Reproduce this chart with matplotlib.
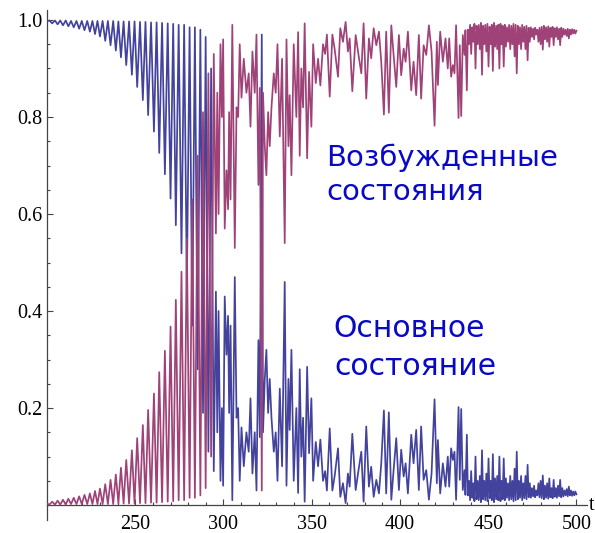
import numpy as np
import matplotlib
import matplotlib.pyplot as plt
from matplotlib.ticker import MultipleLocator

matplotlib.use('Agg')

# ground state population, turning points (t, value)
t_turn = [
    200.0, 201.4, 202.95, 204.5, 206.0, 207.5, 209.05, 210.6, 212.1, 213.6,
    215.15, 216.7, 218.2, 219.7, 221.25, 222.8, 224.3, 225.75, 227.2, 228.6,
    230.0, 231.5, 233.0, 234.5, 236.0, 237.5, 239.0, 240.45, 241.9, 243.4,
    244.9, 246.5, 248.1, 249.6, 251.1, 252.7, 254.3, 255.8, 257.3, 258.95,
    260.6, 262.1, 263.6, 265.2, 266.8, 268.4, 270.0, 271.5, 273.0, 274.6,
    276.2, 277.7, 279.25, 280.8, 282.3, 283.8, 285.35, 286.9, 288.4, 289.9,
    291.45, 293.0, 294.5, 295.7, 296.5, 297.2, 298.3, 299.1, 299.8, 300.7,
    301.7, 302.6, 303.2, 304.0, 305.0, 306.4, 307.4, 308.3, 309.2, 310.2,
    311.5, 313.0, 314.3, 315.3, 316.4, 317.7, 318.7, 319.8, 320.6, 321.7,
    322.4, 323.4, 324.3, 325.3, 326.2, 327.2, 328.5, 329.6, 330.6, 331.9,
    333.2, 334.7, 335.7, 336.8, 337.5, 338.5, 339.8, 341.3, 342.3, 343.2,
    344.1, 345.1, 346.0, 347.4, 348.5, 349.8, 350.8, 352.3, 353.6, 354.9,
    356.4, 357.6, 358.6, 360.2, 361.7, 363.0, 364.9, 366.2, 367.7, 369.2,
    370.5, 371.5, 373.0, 374.9, 376.8, 378.1, 379.4, 380.9, 382.4, 383.7,
    385.1, 386.6, 388.1, 389.4, 390.9, 392.2, 393.7, 395.1, 396.4, 397.9,
    399.4, 400.7, 402.1, 403.2, 404.5, 406.4, 407.7, 409.2, 410.7, 412.0,
    413.4, 414.9, 416.4, 417.9, 419.6, 420.9, 421.5, 422.8, 424.3, 425.8,
    427.1, 427.9, 429.0, 430.0, 430.9, 431.8, 433.2, 433.9, 434.7, 435.6,
    436.6, 437.1, 437.9,
]
ground_turn = [
    0.997, 0.999, 0.993, 0.999, 0.991, 0.999, 0.989, 0.999, 0.987, 0.998,
    0.985, 0.998, 0.982, 0.998, 0.979, 0.998, 0.976, 0.998, 0.971, 0.998,
    0.966, 0.998, 0.957, 0.998, 0.948, 0.998, 0.937, 0.997, 0.923, 0.997,
    0.907, 0.997, 0.887, 0.997, 0.862, 0.996, 0.835, 0.996, 0.804, 0.995,
    0.770, 0.995, 0.726, 0.994, 0.682, 0.993, 0.632, 0.992, 0.577, 0.990,
    0.519, 0.990, 0.450, 0.985, 0.370, 0.985, 0.280, 0.980, 0.190, 0.965,
    0.110, 0.900, 0.070, 0.440, 0.150, 0.400, 0.050, 0.200, 0.040, 0.430,
    0.310, 0.390, 0.190, 0.370, 0.010, 0.470, 0.180, 0.200, 0.050, 0.160,
    0.080, 0.150, 0.110, 0.220, 0.065, 0.150, 0.030, 0.340, 0.140, 0.970,
    0.150, 0.260, 0.320, 0.190, 0.260, 0.180, 0.110, 0.150, 0.050, 0.240,
    0.080, 0.460, 0.040, 0.260, 0.155, 0.320, 0.050, 0.200, 0.025, 0.280,
    0.100, 0.180, 0.007, 0.285, 0.107, 0.220, 0.050, 0.130, 0.080, 0.135,
    0.050, 0.070, 0.030, 0.158, 0.030, 0.060, 0.117, 0.017, 0.045, 0.004,
    0.065, 0.038, 0.147, 0.031, 0.079, 0.110, 0.007, 0.162, 0.038, 0.079,
    0.017, 0.052, 0.024, 0.086, 0.195, 0.024, 0.191, 0.011, 0.072, 0.138,
    0.031, 0.114, 0.059, 0.086, 0.024, 0.145, 0.086, 0.155, 0.031, 0.162,
    0.052, 0.072, 0.011, 0.065, 0.218, 0.045, 0.134, 0.024, 0.086, 0.038,
    0.100, 0.038, 0.117, 0.093, 0.110, 0.011, 0.202, 0.052, 0.198, 0.031,
    0.072, 0.021, 0.145,
]

# fast ripple at the end (t 438.5 .. 500): lows and highs alternate
ripple_start, ripple_end = 438.5, 500.0
ripple_lo = [
    0.020, 0.010, 0.015, 0.008, 0.012, 0.010, 0.006, 0.012, 0.010, 0.008,
    0.014, 0.010, 0.006, 0.012, 0.010, 0.008, 0.012, 0.010, 0.015, 0.010,
    0.012, 0.008, 0.010, 0.012, 0.015, 0.010, 0.014, 0.012, 0.016, 0.015,
    0.018, 0.016, 0.020, 0.016, 0.014, 0.012, 0.015, 0.013, 0.016, 0.014,
    0.017, 0.015, 0.018, 0.016, 0.018, 0.020, 0.018, 0.020, 0.019, 0.020,
    0.022,
]
ripple_hi = [
    0.050, 0.070, 0.045, 0.100, 0.050, 0.060, 0.113, 0.050, 0.065, 0.096,
    0.050, 0.105, 0.055, 0.060, 0.100, 0.050, 0.096, 0.055, 0.045, 0.060,
    0.050, 0.075, 0.110, 0.050, 0.060, 0.045, 0.060, 0.083, 0.045, 0.035,
    0.040, 0.030, 0.045, 0.050, 0.061, 0.040, 0.045, 0.055, 0.035, 0.052,
    0.035, 0.040, 0.052, 0.035, 0.030, 0.033, 0.038, 0.030, 0.028, 0.028,
]

y_ticks = [0.2, 0.4, 0.6, 0.8, 1.0]
y_labels = ['0.2', '0.4', '0.6', '0.8', '1.0']
x_ticks = [250, 300, 350, 400, 450, 500]

# assemble the curves
ripple_v = np.empty(len(ripple_lo) + len(ripple_hi))
ripple_v[0::2] = ripple_lo
ripple_v[1::2] = ripple_hi
ripple_t = np.linspace(ripple_start, ripple_end, len(ripple_v))

t = np.concatenate([np.array(t_turn), ripple_t])
ground = np.concatenate([np.array(ground_turn), ripple_v])
excited = 1 - ground

fig = plt.figure(figsize=(5.95, 5.33), dpi=100)
ax = fig.add_axes([0.079, 0.0251, 0.9076, 0.9556])

ax.plot(t, ground, color='#43439e', lw=1.25, zorder=3)
ax.plot(t, excited, color='#9e4278', lw=1.25, zorder=4)

ax.set_xlim(200, 506)
ax.set_ylim(-0.03, 1.02)

for side in ['top', 'right']:
    ax.spines[side].set_visible(False)
ax.spines['bottom'].set_position(('data', 0))
for side in ['left', 'bottom']:
    ax.spines[side].set_color('#444444')
    ax.spines[side].set_linewidth(0.9)

ax.set_xticks(x_ticks)
ax.set_yticks(y_ticks)
ax.set_yticklabels(y_labels)
ax.xaxis.set_minor_locator(MultipleLocator(10))
ax.yaxis.set_minor_locator(MultipleLocator(0.05))
ax.tick_params(which='both', direction='in', color='#444444', width=0.8)
ax.tick_params(which='major', length=4.5)
ax.tick_params(which='minor', length=2.5)
ax.tick_params(axis='x', which='major', pad=7)
ax.tick_params(axis='y', which='major', pad=3)
for lab in ax.get_xticklabels() + ax.get_yticklabels():
    lab.set_family('Liberation Serif')
    lab.set_fontsize(14.5)

ax.text(507, 0, 't', family='Liberation Serif', fontsize=14.5,
        ha='left', va='center', clip_on=False)

# curve labels
txt_color = '#0808c8'
ax.text(358.3, 0.699, 'Возбужденные', color=txt_color, fontsize=21, va='baseline')
ax.text(358.3, 0.629, 'состояния', color=txt_color, fontsize=21, va='baseline')
ax.text(362.0, 0.346, 'Основное', color=txt_color, fontsize=21.5, va='baseline')
ax.text(362.6, 0.268, 'состояние', color=txt_color, fontsize=21.5, va='baseline')

plt.savefig('out.png', dpi=100)
